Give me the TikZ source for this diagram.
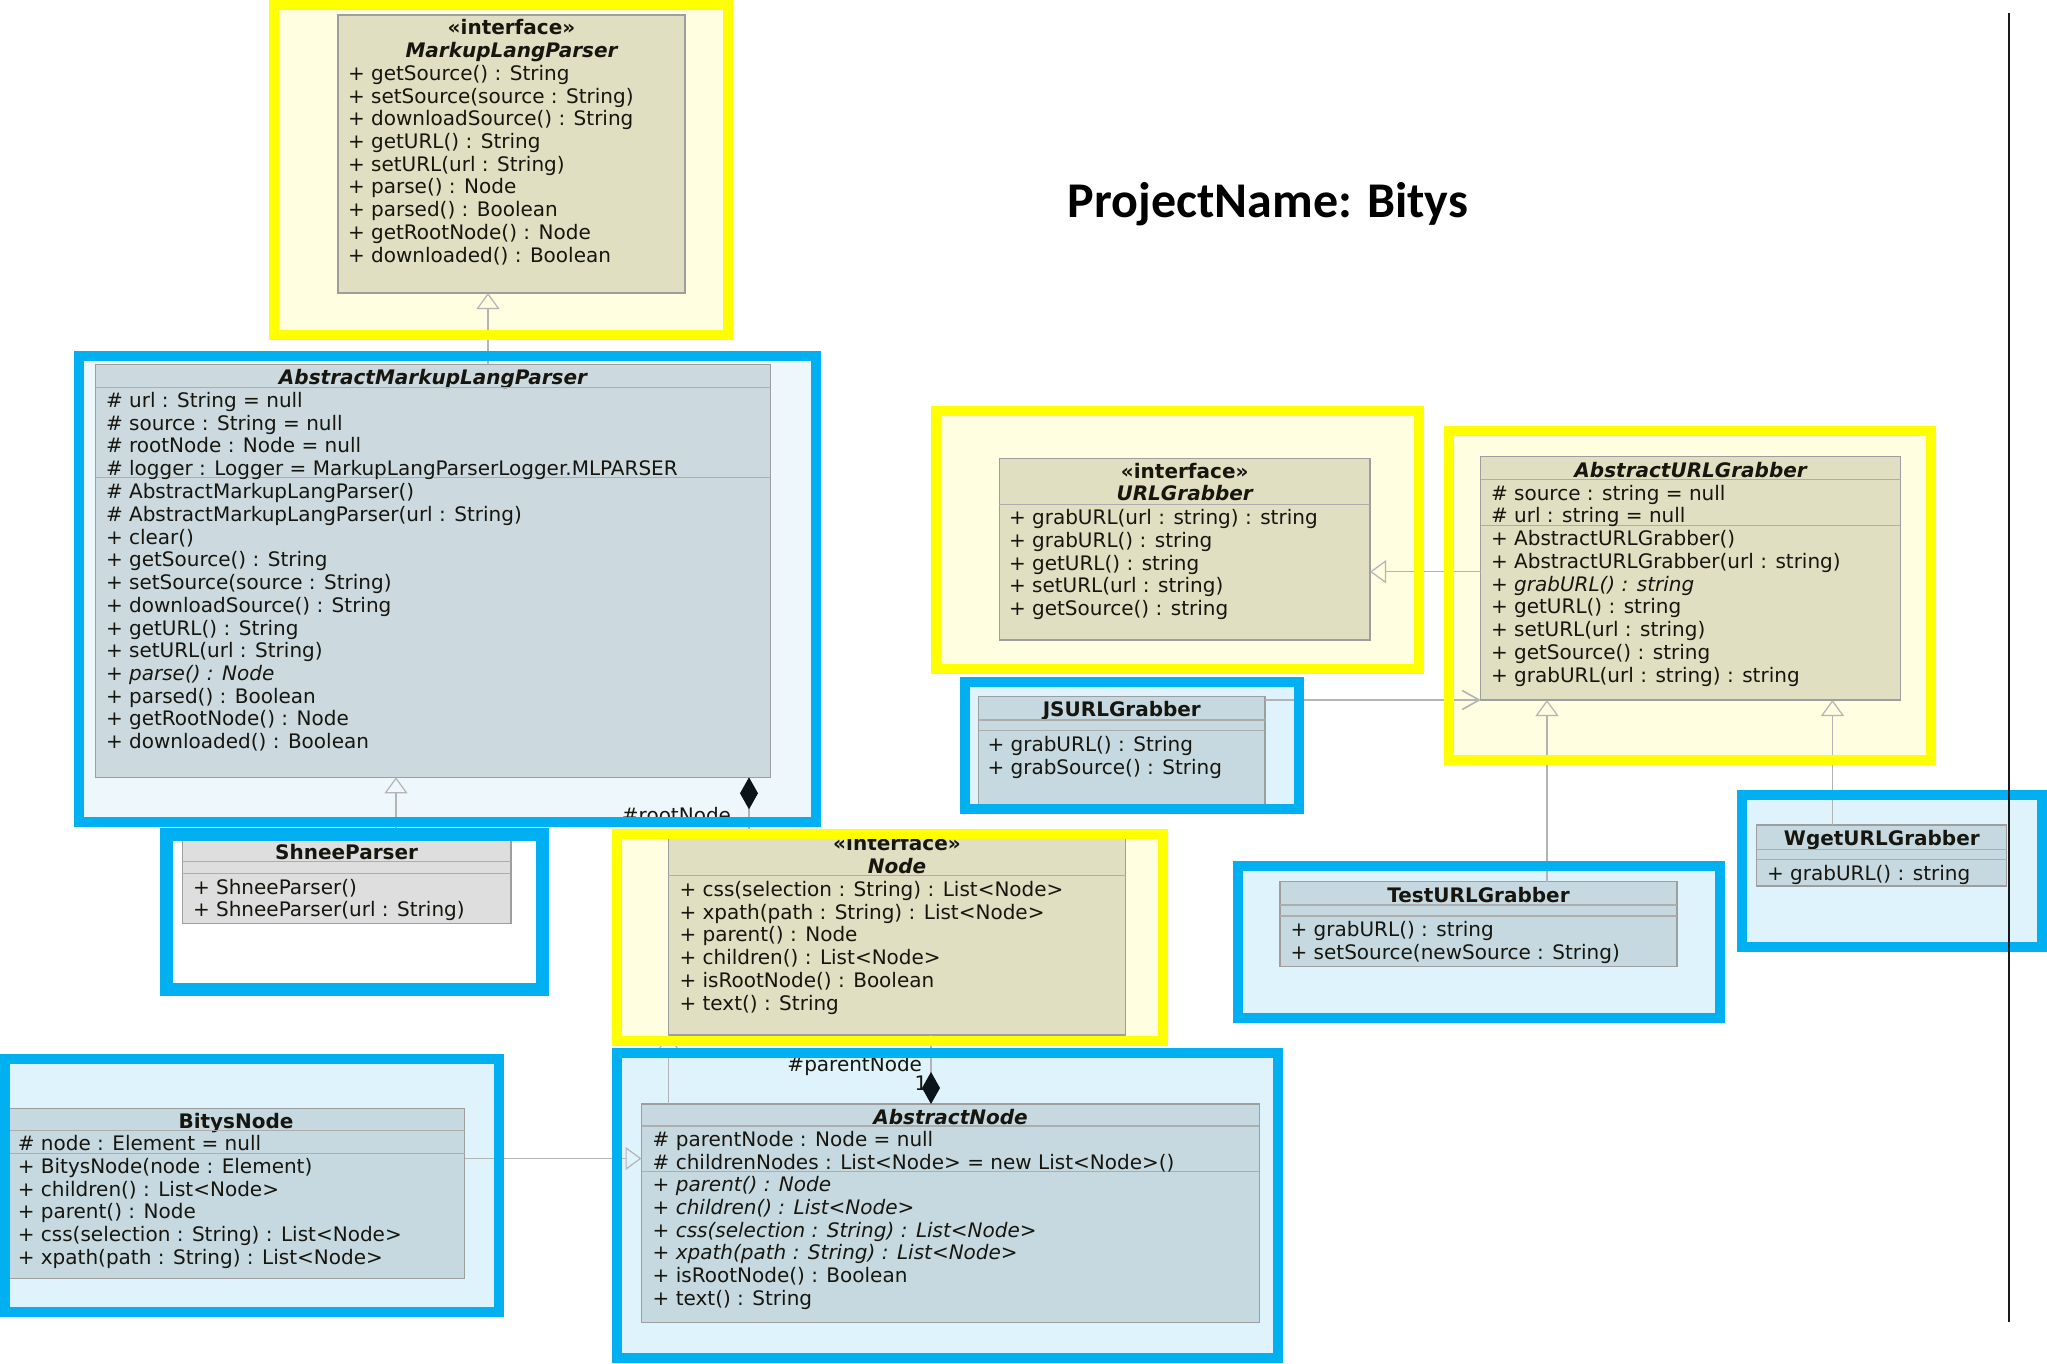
\documentclass[tikz,border=0pt]{standalone}
\usepackage{fontspec}
\setmainfont{DejaVu Sans}
\newfontfamily\titlefont{Carlito}
\usetikzlibrary{arrows.meta,calc}
\definecolor{ybord}{HTML}{FFFF00}
\definecolor{yfill}{HTML}{FFFEE0}
\definecolor{bbord}{HTML}{00B0F0}
\definecolor{bfill}{HTML}{DFF3FC}
\definecolor{bfilltwo}{HTML}{EEF7FC}
\definecolor{khaki}{HTML}{E0DFC1}
\definecolor{steel}{HTML}{C6D9E1}
\definecolor{steeltwo}{HTML}{CCDAE0}
\definecolor{lgray}{HTML}{DEDEDE}
\definecolor{txtc}{HTML}{16160F}
\definecolor{diam}{HTML}{0A141A}
\definecolor{connc}{HTML}{B4B4B4}
\newcommand\umlfont{\fontsize{20}{22.6}\selectfont}
\newcommand\umlbox[6]{\node[cls,fill=#6,minimum width={#4-#2},minimum height={#5-#3}] (#1) at (#2,#3) {};}
\newcommand\umllines[4]{\foreach \umlt [count=\i] in {#4}{\node[utxt] (#3\i) at (#1,{#2+(\i-1)*22.7}) {\umlt};}}
\newcommand\sepl[3]{\draw[sepline] (#1,#3) -- (#2,#3);}
\begin{document}
\begin{tikzpicture}[x=1pt,y=-1pt,
  cls/.style={draw=black!38, line width=1.2pt, inner sep=0pt, outer sep=0pt, anchor=north west},
  sepline/.style={draw=black!32, line width=1.2pt},
  lbl/.style={anchor=base west, inner sep=0pt, outer sep=0pt, text=txtc, font=\umlfont},
  utxt/.style={lbl, yshift=-1.5pt},
  uttl/.style={anchor=base, inner sep=0pt, outer sep=0pt, text=txtc, font=\umlfont\bfseries, yshift=-1.5pt},
  uabs/.style={uttl, font=\umlfont\bfseries\itshape},
  yframe/.style={draw=ybord, line width=10pt},
  bframe/.style={draw=bbord, line width=10pt},
  gen/.style={draw=connc, line width=1.2pt, -{Triangle[open,length=16pt,width=23pt]}},
  comp/.style={draw=connc, line width=1.2pt, {Diamond[length=32pt,width=18pt,color=diam]}-},
  dep/.style={draw=connc, line width=1.6pt, -{Straight Barb[length=17pt,width=19pt]}}
]
\useasboundingbox (0,0) rectangle (2047,1364);
\fill[white] (0,0) rectangle (2047,1364);

% frame fills
\fill[yfill] (274,5) rectangle (728,335);
\fill[bfilltwo] (79,356) rectangle (816,821.7);
\fill[white] (166.35,834.35) rectangle (542.65,989.65);
\fill[yfill] (616.8,834) rectangle (1163,1040.7);
\fill[bfill] (617,1053.3) rectangle (1278,1358.3);
\fill[bfill] (5,1059) rectangle (499,1311.7);
\fill[yfill] (936,410.7) rectangle (1419,669);
\fill[yfill] (1449.4,431) rectangle (1931,760);
\fill[bfill] (965.3,682.3) rectangle (1299,809);
\fill[bfill] (1238.4,866) rectangle (1719.5,1017.7);
\fill[bfill] (1741.9,795) rectangle (2042,946.7);

% title
\node[font=\titlefont\bfseries\fontsize{50}{60}\selectfont, anchor=base, inner sep=0pt] (title) at (1268,218) {ProjectName: Bitys};

% MarkupLangParser
\umlbox{mlp}{338}{15}{685}{293}{khaki}
\node[uttl] (mlpst) at (511.5,33) {«interface»};
\node[uabs] (mlpname) at (511.5,56) {MarkupLangParser};
\umllines{348}{79}{mlpm}{+ getSource() : String, + setSource(source : String), + downloadSource() : String, + getURL() : String, + setURL(url : String), + parse() : Node, + parsed() : Boolean, + getRootNode() : Node, + downloaded() : Boolean}

% AbstractMarkupLangParser
\umlbox{amlp}{95.7}{364.3}{770.4}{777.3}{steeltwo}
\node[uabs] (amlpname) at (433,383) {AbstractMarkupLangParser};
\sepl{95.7}{770.4}{387.7}
\sepl{95.7}{770.4}{477.7}
\umllines{106}{406}{amlpa}{\# url : String = null, \# source : String = null, \# rootNode : Node = null, \# logger : Logger = MarkupLangParserLogger.MLPARSER}
\umllines{106}{497.3}{amlpm}{\# AbstractMarkupLangParser(), \# AbstractMarkupLangParser(url : String), + clear(), + getSource() : String, + setSource(source : String), + downloadSource() : String, + getURL() : String, + setURL(url : String), {\itshape + parse() : Node}, + parsed() : Boolean, + getRootNode() : Node, + downloaded() : Boolean}

% ShneeParser
\umlbox{shnee}{182.3}{839}{511}{923.7}{lgray}
\node[uttl] (shneename) at (346.6,858) {ShneeParser};
\sepl{182.3}{511}{861.7}
\sepl{182.3}{511}{873.3}
\umllines{193}{892.7}{shneem}{+ ShneeParser(), + ShneeParser(url : String)}

% Node
\umlbox{inode}{668.4}{831}{1125.7}{1035}{khaki}
\node[uttl] (inodest) at (897,849.3) {«interface»};
\node[uabs] (inodename) at (897,872) {Node};
\sepl{668.4}{1125.7}{875.3}
\umllines{679.5}{895}{inodem}{+ css(selection : String) : List<Node>, + xpath(path : String) : List<Node>, + parent() : Node, + children() : List<Node>, + isRootNode() : Boolean, + text() : String}

% AbstractNode
\umlbox{anode}{641.5}{1104}{1259.4}{1322.3}{steel}
\node[uabs] (anodename) at (950.5,1122.7) {AbstractNode};
\sepl{641.5}{1259.4}{1126}
\sepl{641.5}{1259.4}{1171.7}
\umllines{652.7}{1145.3}{anodea}{\# parentNode : Node = null, \# childrenNodes : List<Node> = new List<Node>()}
\umllines{652.7}{1190.3}{anodem}{{\itshape + parent() : Node}, {\itshape + children() : List<Node>}, {\itshape + css(selection : String) : List<Node>}, {\itshape + xpath(path : String) : List<Node>}, + isRootNode() : Boolean, + text() : String}

% BitysNode
\umlbox{bnode}{8}{1108.3}{464.6}{1278.3}{steel}
\node[uttl] (bnodename) at (236,1126.7) {BitysNode};
\sepl{8}{464.6}{1130.7}
\sepl{8}{464.6}{1153.3}
\umllines{17.8}{1149.3}{bnodea}{\# node : Element = null}
\umllines{17.8}{1172}{bnodem}{+ BitysNode(node : Element), + children() : List<Node>, + parent() : Node, + css(selection : String) : List<Node>, + xpath(path : String) : List<Node>}

% URLGrabber
\umlbox{urlg}{999.4}{458.3}{1370}{640}{khaki}
\node[uttl] (urlgst) at (1184.7,477) {«interface»};
\node[uabs] (urlgname) at (1184.7,499.3) {URLGrabber};
\sepl{999.4}{1370}{504.3}
\umllines{1009}{523.3}{urlgm}{+ grabURL(url : string) : string, + grabURL() : string, + getURL() : string, + setURL(url : string), + getSource() : string}

% AbstractURLGrabber
\umlbox{aurlg}{1480.8}{456.7}{1900.5}{700}{khaki}
\node[uabs] (aurlgname) at (1690.6,476) {AbstractURLGrabber};
\sepl{1480.8}{1900.5}{479.3}
\sepl{1480.8}{1900.5}{525.7}
\umllines{1491}{498.7}{aurlga}{\# source : string = null, \# url : string = null}
\umllines{1491}{544.3}{aurlgm}{+ AbstractURLGrabber(), + AbstractURLGrabber(url : string), {\itshape + grabURL() : string}, + getURL() : string, + setURL(url : string), + getSource() : string, + grabURL(url : string) : string}

% JSURLGrabber
\umlbox{jsg}{978.6}{696.7}{1265}{806}{steel}
\node[uttl] (jsgname) at (1121.8,715.3) {JSURLGrabber};
\sepl{978.6}{1265}{720}
\sepl{978.6}{1265}{730.7}
\umllines{987.5}{750}{jsgm}{+ grabURL() : String, + grabSource() : String}

% TestURLGrabber
\umlbox{tsg}{1280}{881.7}{1677}{966.7}{steel}
\node[uttl] (tsgname) at (1478.5,901) {TestURLGrabber};
\sepl{1280}{1677}{905}
\sepl{1280}{1677}{916}
\umllines{1290.6}{935.3}{tsgm}{+ grabURL() : string, + setSource(newSource : String)}

% WgetURLGrabber
\umlbox{wg}{1756.8}{825}{2006.8}{886}{steel}
\node[uttl] (wgname) at (1881.8,844.3) {WgetURLGrabber};
\sepl{1756.8}{2006.8}{849.3}
\sepl{1756.8}{2006.8}{859.3}
\umllines{1767}{879.3}{wgm}{+ grabURL() : string}

% connectors
\coordinate (gx1) at (488,0);
\coordinate (gx2) at (396,0);
\coordinate (cx1) at (749,0);
\coordinate (cx2) at (931,0);
\coordinate (gx3) at (668.4,0);
\coordinate (gy1) at (0,1158.5);
\coordinate (gy2) at (0,571.7);
\coordinate (gy3) at (0,700);
\coordinate (gx4) at (1547,0);
\coordinate (gx5) at (1832.5,0);
\draw[gen] (amlp.north -| gx1) -- (mlp.south -| gx1);
\draw[gen] (shnee.north -| gx2) -- (amlp.south -| gx2);
\draw[gen] (anode.north -| gx3) -- (inode.south -| gx3);
\draw[gen] (bnode.east |- gy1) -- (anode.west |- gy1);
\draw[gen] (aurlg.west |- gy2) -- (urlg.east |- gy2);
\draw[dep] (jsg.east |- gy3) -- (aurlg.south west);
\draw[gen] (tsg.north -| gx4) -- (aurlg.south -| gx4);
\draw[gen] (wg.north -| gx5) -- (aurlg.south -| gx5);
\node[lbl, anchor=base east] (lroot) at (731,822) {\#rootNode};
\node[lbl, anchor=base east] (lparent) at (922,1071) {\#parentNode};
\node[lbl, anchor=base] (lone) at (921,1090) {1};
\draw[comp] (amlp.south -| cx1) -- (inode.north -| cx1);
\draw[comp] (anode.north -| cx2) -- (inode.south -| cx2);

% frame borders
\draw[yframe] (274,5) rectangle (728,335);
\draw[bframe] (79,356) rectangle (816,821.7);
\draw[bframe, line width=12.7pt] (166.35,834.35) rectangle (542.65,989.65);
\draw[yframe] (616.8,834) rectangle (1163,1040.7);
\draw[bframe] (617,1053.3) rectangle (1278,1358.3);
\draw[bframe] (5,1059) rectangle (499,1311.7);
\draw[yframe] (936,410.7) rectangle (1419,669);
\draw[yframe] (1449.4,431) rectangle (1931,760);
\draw[bframe] (965.3,682.3) rectangle (1299,809);
\draw[bframe] (1238.4,866) rectangle (1719.5,1017.7);
\draw[bframe] (1741.9,795) rectangle (2042,946.7);

% right vertical line
\coordinate (vl1) at (2009,13);
\coordinate (vl2) at (2009,1322);
\draw[line width=2pt, black!90] (vl1) -- (vl2);
\end{tikzpicture}
\end{document}
